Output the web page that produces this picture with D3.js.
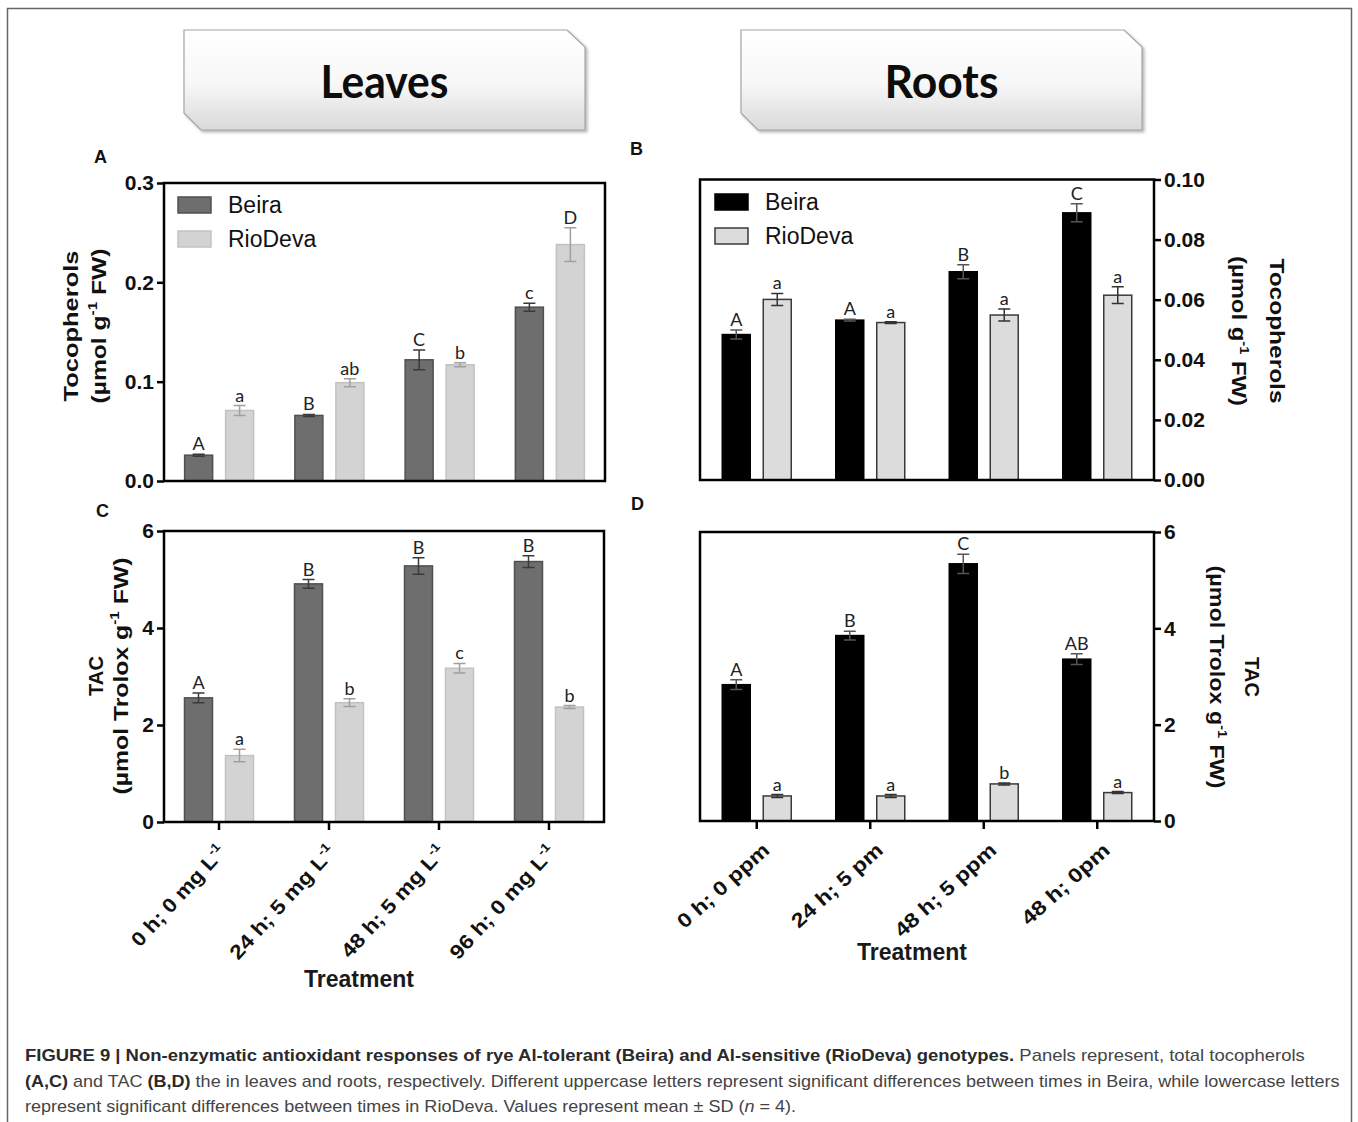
<!DOCTYPE html>
<html>
<head>
<meta charset="utf-8">
<script src="https://cdn.jsdelivr.net/npm/d3@7"></script>
<style>
  body { margin: 0; background: #fff; }
  svg { display: block; }
</style>
</head>
<body>
<svg id="fig" width="1358" height="1122"></svg>
<script>
// ---- data -------------------------------------------------------------
const genotypes = ["Beira", "RioDeva"];
const leafTreatments = ["0 h; 0 mg L^-1", "24 h; 5 mg L^-1", "48 h; 5 mg L^-1", "96 h; 0 mg L^-1"];
const rootTreatments = ["0 h; 0 ppm", "24 h; 5 pm", "48 h; 5 ppm", "48 h; 0pm"];

// (A) leaf tocopherols, µmol g-1 FW
const leafTocoBeira   = [0.026, 0.066, 0.122, 0.175];
const leafTocoBeiraSD = [0.001, 0.001, 0.010, 0.004];
const leafTocoRio     = [0.071, 0.099, 0.117, 0.238];
const leafTocoRioSD   = [0.005, 0.004, 0.002, 0.017];
const leafTocoBeiraLetters = ["A", "B", "C", "c"];
const leafTocoRioLetters   = ["a", "ab", "b", "D"];

// (B) root tocopherols, µmol g-1 FW
const rootTocoBeira   = [0.0484, 0.0532, 0.0693, 0.0889];
const rootTocoBeiraSD = [0.0015, 0.0003, 0.0023, 0.0030];
const rootTocoRio     = [0.0601, 0.0524, 0.0549, 0.0615];
const rootTocoRioSD   = [0.0020, 0.0003, 0.0020, 0.0028];
const rootTocoBeiraLetters = ["A", "A", "B", "C"];
const rootTocoRioLetters   = ["a", "a", "a", "a"];

// (C) leaf TAC, µmol Trolox g-1 FW
const leafTacBeira   = [2.56, 4.91, 5.28, 5.37];
const leafTacBeiraSD = [0.10, 0.09, 0.17, 0.12];
const leafTacRio     = [1.37, 2.46, 3.17, 2.37];
const leafTacRioSD   = [0.13, 0.08, 0.10, 0.03];
const leafTacBeiraLetters = ["A", "B", "B", "B"];
const leafTacRioLetters   = ["a", "b", "c", "b"];

// (D) root TAC, µmol Trolox g-1 FW
const rootTacBeira   = [2.83, 3.85, 5.34, 3.36];
const rootTacBeiraSD = [0.10, 0.09, 0.20, 0.11];
const rootTacRio     = [0.52, 0.52, 0.77, 0.59];
const rootTacRioSD   = [0.03, 0.03, 0.02, 0.02];
const rootTacBeiraLetters = ["A", "B", "C", "AB"];
const rootTacRioLetters   = ["a", "a", "b", "a"];

const tocoLeafTicks = [0, 0.1, 0.2, 0.3];
const tocoRootTicks = [0, 0.02, 0.04, 0.06, 0.08, 0.10];
const tacTicks = [0, 2, 4, 6];

// ---- styles ------------------------------------------------------------
const SANS = "'Liberation Sans', Arial, Helvetica, sans-serif";
const HUMAN = "Lato, 'Open Sans', sans-serif";

const svg = d3.select("#fig");
svg.append("rect").attr("width", 1358).attr("height", 1122).attr("fill", "#fff");

const defs = svg.append("defs");
const grad = defs.append("linearGradient").attr("id", "boxGrad")
  .attr("x1", 0).attr("y1", 0).attr("x2", 0).attr("y2", 1);
grad.append("stop").attr("offset", "0%").attr("stop-color", "#ffffff");
grad.append("stop").attr("offset", "55%").attr("stop-color", "#f7f7f7");
grad.append("stop").attr("offset", "100%").attr("stop-color", "#d9d9d9");
const shadow = defs.append("filter").attr("id", "boxShadow")
  .attr("x", "-5%").attr("y", "-10%").attr("width", "115%").attr("height", "130%");
shadow.append("feDropShadow").attr("dx", 2).attr("dy", 2).attr("stdDeviation", 1.5)
  .attr("flood-color", "#888").attr("flood-opacity", 0.6);

// outer frame of the figure
svg.append("rect").attr("x", 7.5).attr("y", 8.5).attr("width", 1344).attr("height", 1130)
  .attr("fill", "none").attr("stroke", "#666").attr("stroke-width", 1.5);

// ---- header tabs ----------------------------------------------------------
function headerTab(x0, label, len) {
  const w = 401, h = 100, c = 17, y0 = 30;
  const pts = [[x0, y0], [x0 + w - c - 1, y0], [x0 + w, y0 + c], [x0 + w, y0 + h],
               [x0 + c, y0 + h], [x0, y0 + h - c]];
  svg.append("path").attr("d", d3.line()(pts) + "Z")
    .attr("fill", "url(#boxGrad)").attr("stroke", "#a6a6a6").attr("stroke-width", 1.2)
    .attr("filter", "url(#boxShadow)");
  svg.append("text").attr("x", x0 + w / 2).attr("y", 98)
    .attr("text-anchor", "middle").attr("font-family", HUMAN).attr("font-weight", 700)
    .attr("font-size", 45).attr("fill", "#0d0d0d")
    .attr("textLength", len).attr("lengthAdjust", "spacingAndGlyphs").text(label);
}
headerTab(184, "Leaves", 128);
headerTab(741, "Roots", 114);

// ---- helpers --------------------------------------------------------------
// writes "text^sup rest" as tspans with a raised superscript
function richText(sel, str, size) {
  const parts = str.split(/\^(-?\d+)/);
  parts.forEach((part, i) => {
    if (!part) return;
    if (i % 2 === 1) {
      sel.append("tspan").attr("dy", -size * 0.42).attr("font-size", size * 0.62).text(part);
    } else {
      const t = sel.append("tspan").text(part);
      if (i > 0) t.attr("dy", size * 0.42);
    }
  });
}

function panelLetter(x, y, letter) {
  svg.append("text").attr("x", x).attr("y", y).attr("font-family", SANS)
    .attr("font-weight", "bold").attr("font-size", 18).attr("fill", "#111").text(letter);
}

function drawPanel(p) {
  const g = svg.append("g");
  const x = d3.scaleBand().domain(p.categories).range([p.x0, p.x1]);
  const y = d3.scaleLinear().domain([0, p.max]).range([p.y0, p.y1]);
  const barW = 28, off = 20.5;

  p.series.forEach((s, si) => {
    const dx = si === 0 ? -off : off;
    const cx = c => x(c) + x.bandwidth() / 2 + dx;
    const rows = p.categories.map((c, i) => ({ c, v: s.values[i], e: s.sd[i], l: s.letters[i] }));

    g.append("g").selectAll("rect").data(rows).join("rect")
      .attr("x", d => cx(d.c) - barW / 2)
      .attr("y", d => y(d.v))
      .attr("width", barW)
      .attr("height", d => y(0) - y(d.v))
      .attr("fill", s.fill).attr("stroke", s.stroke).attr("stroke-width", 1.5);

    const eb = g.append("g").attr("stroke", s.errColor).attr("stroke-width", 1.5).attr("fill", "none");
    eb.selectAll("path").data(rows).join("path")
      .attr("d", d => {
        const X = cx(d.c), hi = y(d.v + d.e), lo = y(d.v - d.e);
        return `M${X},${lo}V${hi}M${X - 6},${hi}H${X + 6}M${X - 6},${lo}H${X + 6}`;
      });

    g.append("g").selectAll("text").data(rows).join("text")
      .attr("x", d => cx(d.c))
      .attr("y", d => y(d.v + d.e) - 4)
      .attr("text-anchor", "middle").attr("font-family", HUMAN)
      .attr("font-size", 18).attr("fill", "#222").text(d => d.l);
  });

  // plot frame
  g.append("rect").attr("x", p.x0).attr("y", p.y1)
    .attr("width", p.x1 - p.x0).attr("height", p.y0 - p.y1)
    .attr("fill", "none").attr("stroke", "#000").attr("stroke-width", 2.5);

  // value axis
  const ax = (p.side === "left" ? d3.axisLeft(y) : d3.axisRight(y))
    .tickValues(p.ticks).tickFormat(d3.format(p.fmt)).tickSize(7).tickPadding(3);
  const ag = g.append("g")
    .attr("transform", `translate(${p.side === "left" ? p.x0 : p.x1},0)`).call(ax);
  ag.select(".domain").remove();
  ag.selectAll(".tick line").attr("stroke", "#000").attr("stroke-width", 2.5);
  ag.selectAll(".tick text").attr("font-family", SANS).attr("font-weight", "bold")
    .attr("font-size", 21).attr("fill", "#111");

  // value axis title
  p.title.forEach(t => {
    const tx = g.append("text")
      .attr("transform", `translate(${t.x},${p.titleY}) rotate(${p.side === "left" ? -90 : 90})`)
      .attr("text-anchor", "middle").attr("font-family", SANS).attr("font-weight", "bold")
      .attr("font-size", 21).attr("fill", "#111")
      .attr("textLength", t.len).attr("lengthAdjust", "spacingAndGlyphs");
    richText(tx, t.text, 21);
  });

  // category axis
  if (p.xLabels) {
    const xa = d3.axisBottom(x).tickSize(8).tickFormat("");
    const xg = g.append("g").attr("transform", `translate(0,${p.y0})`).call(xa);
    xg.select(".domain").remove();
    xg.selectAll(".tick line").attr("stroke", "#000").attr("stroke-width", 2.5);

    p.categories.forEach((c, i) => {
      const X = x(c) + x.bandwidth() / 2 + p.xLabels.dx;
      const t = g.append("text")
        .attr("transform", `translate(${X},${p.xLabels.y}) rotate(${p.xLabels.angle})`)
        .attr("text-anchor", "end").attr("font-family", SANS).attr("font-weight", "bold")
        .attr("font-size", 20).attr("fill", "#111")
        .attr("textLength", p.xLabels.lens[i]).attr("lengthAdjust", "spacingAndGlyphs");
      richText(t, c, 20);
    });
    g.append("text").attr("x", p.xLabels.titleX).attr("y", p.xLabels.titleY)
      .attr("text-anchor", "middle").attr("font-family", SANS).attr("font-weight", "bold")
      .attr("font-size", 23).attr("fill", "#1a1a1a").text("Treatment");
  }

  // legend
  if (p.legend) {
    p.series.forEach((s, si) => {
      const ly = p.legend.y + si * p.legend.step;
      g.append("rect").attr("x", p.legend.x).attr("y", ly)
        .attr("width", 33).attr("height", 16)
        .attr("fill", s.fill).attr("stroke", s.stroke).attr("stroke-width", 1.5);
      g.append("text").attr("x", p.legend.x + 50).attr("y", ly + 16)
        .attr("font-family", SANS).attr("font-size", 23).attr("fill", "#111")
        .text(genotypes[si]);
    });
  }
}

const leafBeiraStyle = { fill: "#6e6e6e", stroke: "#505050", errColor: "#3a3a3a" };
const leafRioStyle   = { fill: "#d3d3d3", stroke: "#c2c2c2", errColor: "#a0a0a0" };
const rootBeiraStyle = { fill: "#000000", stroke: "#000000", errColor: "#555555" };
const rootRioStyle   = { fill: "#dcdcdc", stroke: "#3a3a3a", errColor: "#333333" };

// (A) leaves – tocopherols
drawPanel({
  categories: leafTreatments, x0: 164, x1: 605, y0: 481, y1: 183, max: 0.3,
  ticks: tocoLeafTicks, fmt: ".1f", side: "left", titleY: 326,
  title: [{ text: "Tocopherols", x: 78, len: 151 }, { text: "(µmol g^-1 FW)", x: 106, len: 155 }],
  series: [
    Object.assign({ values: leafTocoBeira, sd: leafTocoBeiraSD, letters: leafTocoBeiraLetters }, leafBeiraStyle),
    Object.assign({ values: leafTocoRio, sd: leafTocoRioSD, letters: leafTocoRioLetters }, leafRioStyle)
  ],
  legend: { x: 178, y: 197, step: 34 }
});

// (B) roots – tocopherols
drawPanel({
  categories: rootTreatments, x0: 700, x1: 1154, y0: 480, y1: 179.5, max: 0.10,
  ticks: tocoRootTicks, fmt: ".2f", side: "right", titleY: 331,
  title: [{ text: "Tocopherols", x: 1269.5, len: 145 }, { text: "(µmol g^-1 FW)", x: 1231.5, len: 150 }],
  series: [
    Object.assign({ values: rootTocoBeira, sd: rootTocoBeiraSD, letters: rootTocoBeiraLetters }, rootBeiraStyle),
    Object.assign({ values: rootTocoRio, sd: rootTocoRioSD, letters: rootTocoRioLetters }, rootRioStyle)
  ],
  legend: { x: 715, y: 194, step: 34 }
});

// (C) leaves – TAC
drawPanel({
  categories: leafTreatments, x0: 164, x1: 604, y0: 822, y1: 531, max: 6,
  ticks: tacTicks, fmt: "d", side: "left", titleY: 676,
  title: [{ text: "TAC", x: 103, len: 40 }, { text: "(µmol Trolox g^-1 FW)", x: 128, len: 237 }],
  series: [
    Object.assign({ values: leafTacBeira, sd: leafTacBeiraSD, letters: leafTacBeiraLetters }, leafBeiraStyle),
    Object.assign({ values: leafTacRio, sd: leafTacRioSD, letters: leafTacRioLetters }, leafRioStyle)
  ],
  xLabels: { dx: 8, y: 853, angle: -47.5, lens: [129, 146, 144, 146], titleX: 359, titleY: 987 }
});

// (D) roots – TAC
drawPanel({
  categories: rootTreatments, x0: 700, x1: 1154, y0: 821, y1: 532, max: 6,
  ticks: tacTicks, fmt: "d", side: "right", titleY: 677,
  title: [{ text: "TAC", x: 1245, len: 40 }, { text: "(µmol Trolox g^-1 FW)", x: 1209.5, len: 223 }],
  series: [
    Object.assign({ values: rootTacBeira, sd: rootTacBeiraSD, letters: rootTacBeiraLetters }, rootBeiraStyle),
    Object.assign({ values: rootTacRio, sd: rootTacRioSD, letters: rootTacRioLetters }, rootRioStyle)
  ],
  xLabels: { dx: 14, y: 852, angle: -42, lens: [116, 115, 129, 111], titleX: 912, titleY: 960 }
});

panelLetter(94, 163, "A");
panelLetter(630, 155, "B");
panelLetter(96, 517, "C");
panelLetter(631, 510, "D");

// ---- caption -----------------------------------------------------------
const captionLines = [
  [["b", "FIGURE 9 | Non-enzymatic antioxidant responses of rye Al-tolerant (Beira) and Al-sensitive (RioDeva) genotypes."],
   ["r", " Panels represent, total tocopherols"]],
  [["b", "(A,C)"], ["r", " and TAC "], ["b", "(B,D)"],
   ["r", " the in leaves and roots, respectively. Different uppercase letters represent significant differences between times in Beira, while lowercase letters"]],
  [["r", "represent significant differences between times in RioDeva. Values represent mean \u00b1 SD ("],
   ["i", "n"], ["r", " = 4)."]]
];
const captionBase = [1061, 1087, 1112];
const captionWidth = [1280, 1315, null];
let lastScale = 1;
captionLines.forEach((line, li) => {
  const t = svg.append("text").attr("font-family", SANS).attr("font-size", 17).attr("fill", "#444");
  line.forEach(([kind, str]) => {
    const s = t.append("tspan").text(str);
    if (kind === "b") s.attr("font-weight", "bold").attr("fill", "#2a2a2a");
    if (kind === "i") s.attr("font-style", "italic");
  });
  const natural = t.node().getComputedTextLength();
  const k = captionWidth[li] ? captionWidth[li] / natural : lastScale;
  lastScale = k;
  t.attr("transform", `translate(25,${captionBase[li]}) scale(${k},1)`);
});
</script>
</body>
</html>
